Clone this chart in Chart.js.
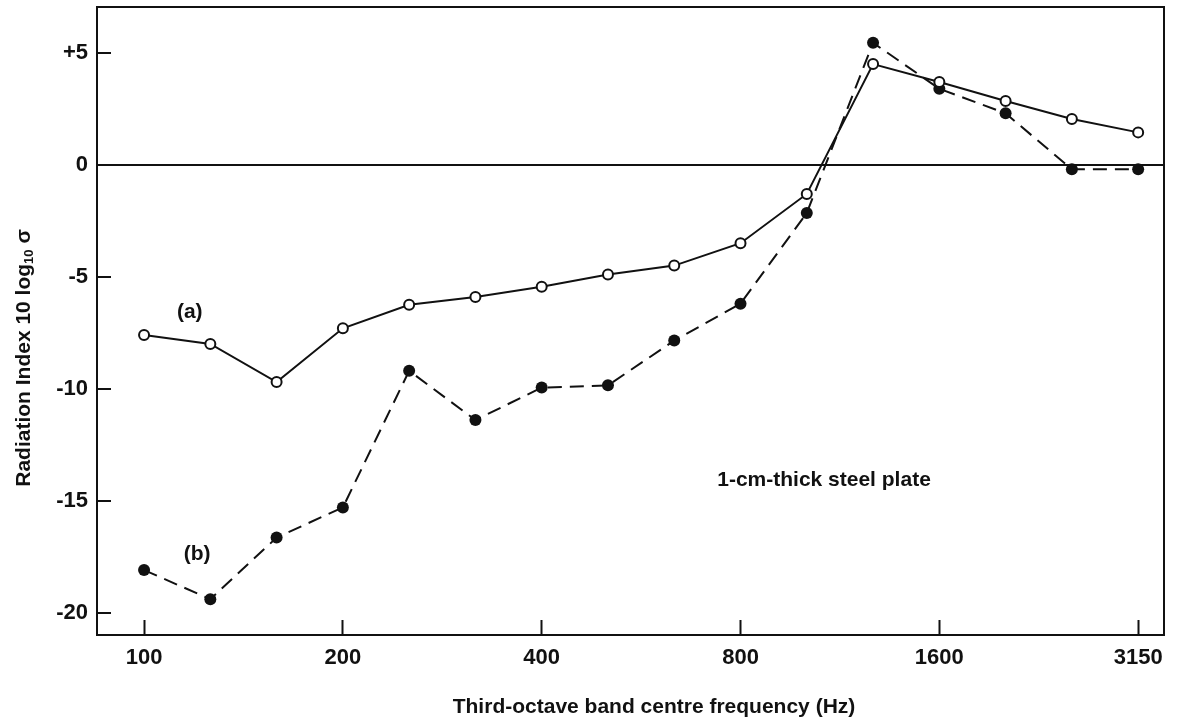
<!DOCTYPE html>
<html>
<head>
<meta charset="utf-8">
<script src="https://cdn.jsdelivr.net/npm/chart.js@4"></script>
<style>
  html, body { margin: 0; padding: 0; background: #fff; }
  #wrap { width: 1178px; height: 722px; }
</style>
</head>
<body>
<div id="wrap"><canvas id="radiacion"></canvas></div>
<script>
/* Radiation index of a 1-cm steel plate, third-octave bands */

const bandas = [100, 125, 160, 200, 250, 315, 400, 500, 630, 800, 1000, 1250, 1600, 2000, 2500, 3150];
const curvaA = [-7.6, -8.0, -9.7, -7.3, -6.25, -5.9, -5.45, -4.9, -4.5, -3.5, -1.3, 4.5, 3.7, 2.85, 2.05, 1.45];
const curvaB = [-18.1, -19.4, -16.65, -15.3, -9.2, -11.4, -9.95, -9.85, -7.85, -6.2, -2.15, 5.45, 3.4, 2.3, -0.2, -0.2];
const bandasMarcadas = [100, 200, 400, 800, 1600, 3150];
const ticksY = [-20, -15, -10, -5, 0, 5];

const FUENTE = "'Liberation Sans', Arial, sans-serif";
const negro = "#111";

// rótulos sobre el área del gráfico, en coordenadas de datos (índice de banda, dB)
const rotulos = [
  { texto: "(a)", x: 0.69, y: -6.6 },
  { texto: "(b)", x: 0.8, y: -17.4 },
  { texto: "1-cm-thick steel plate", x: 10.26, y: -14.1 },
];

const toPts = (vals) => vals.map((v, i) => ({ x: i, y: v }));

// título del eje Y con subíndice dibujado a mano
function tituloY(ctx, cx, cy) {
  const partes = [
    { t: "Radiation Index 10 log", f: "bold 21px " + FUENTE, dy: 0 },
    { t: "10", f: "bold 13px " + FUENTE, dy: 5 },
    { t: " σ", f: "bold 21px " + FUENTE, dy: 0 },
  ];
  let total = 0;
  partes.forEach((p) => { ctx.font = p.f; p.w = ctx.measureText(p.t).width; total += p.w; });
  ctx.save();
  ctx.translate(cx, cy);
  ctx.rotate(-Math.PI / 2);
  ctx.textAlign = "left";
  ctx.textBaseline = "middle";
  let x = -total / 2;
  partes.forEach((p) => {
    ctx.font = p.f;
    ctx.fillText(p.t, x, p.dy);
    x += p.w;
  });
  ctx.restore();
}

const marcoYRotulos = {
  id: "marcoYRotulos",
  afterDraw(chart) {
    const { ctx, chartArea: a, scales } = chart;
    ctx.save();
    ctx.strokeStyle = negro;
    ctx.lineWidth = 2;
    ctx.beginPath();
    ctx.moveTo(a.left, a.top);
    ctx.lineTo(a.right, a.top);
    ctx.lineTo(a.right, a.bottom);
    ctx.stroke();
    ctx.fillStyle = negro;
    ctx.font = "bold 21px " + FUENTE;
    ctx.textAlign = "center";
    ctx.textBaseline = "middle";
    rotulos.forEach((r) => {
      ctx.fillText(r.texto, scales.x.getPixelForValue(r.x), scales.y.getPixelForValue(r.y));
    });
    ctx.fillText("Third-octave band centre frequency (Hz)", 654, 707);
    tituloY(ctx, 24, 358);
    ctx.restore();
  },
};

new Chart(document.getElementById("radiacion"), {
  type: "line",
  data: {
    datasets: [
      {
        label: "(a)",
        data: toPts(curvaA),
        borderColor: negro,
        borderWidth: 2,
        pointRadius: 5,
        pointBorderWidth: 2,
        pointBackgroundColor: "#fff",
        pointBorderColor: negro,
        tension: 0,
      },
      {
        label: "(b)",
        data: toPts(curvaB),
        borderColor: negro,
        borderWidth: 2,
        borderDash: [14, 8],
        pointRadius: 6,
        pointBorderWidth: 0,
        pointBackgroundColor: negro,
        tension: 0,
      },
    ],
  },
  options: {
    responsive: true,
    maintainAspectRatio: false,
    animation: false,
    layout: { padding: { top: 6, right: 14, left: 0, bottom: 0 } },
    plugins: { legend: { display: false }, tooltip: { enabled: false } },
    scales: {
      x: {
        type: "linear",
        min: -0.71,
        max: 15.39,
        afterBuildTicks: (s) => {
          s.ticks = bandasMarcadas.map((f) => ({ value: bandas.indexOf(f) }));
        },
        afterFit: (s) => {
          s.height = 87;
          s.paddingLeft = 0;
          s.paddingRight = 0;
        },
        border: { color: negro, width: 2 },
        grid: { drawOnChartArea: false, tickLength: -15, tickColor: negro, tickWidth: 2 },
        ticks: {
          color: negro,
          font: { family: FUENTE, size: 22, weight: "bold" },
          padding: 25,
          maxRotation: 0,
          autoSkip: false,
          callback: (v) => bandas[v],
        },
        title: { display: false },
      },
      y: {
        min: -21,
        max: 7.05,
        afterBuildTicks: (s) => {
          s.ticks = ticksY.map((v) => ({ value: v }));
        },
        afterFit: (s) => {
          s.width = 97;
          s.paddingTop = 0;
          s.paddingBottom = 0;
        },
        border: { color: negro, width: 2 },
        grid: {
          color: (c) => (c.tick && c.tick.value === 0 ? negro : "transparent"),
          lineWidth: 2,
          tickLength: -14,
          tickColor: negro,
          tickWidth: 2,
        },
        ticks: {
          color: negro,
          font: { family: FUENTE, size: 22, weight: "bold" },
          padding: 23,
          callback: (v) => (v > 0 ? "+" + v : String(v)),
        },
        title: { display: false },
      },
    },
  },
  plugins: [marcoYRotulos],
});
</script>
</body>
</html>
